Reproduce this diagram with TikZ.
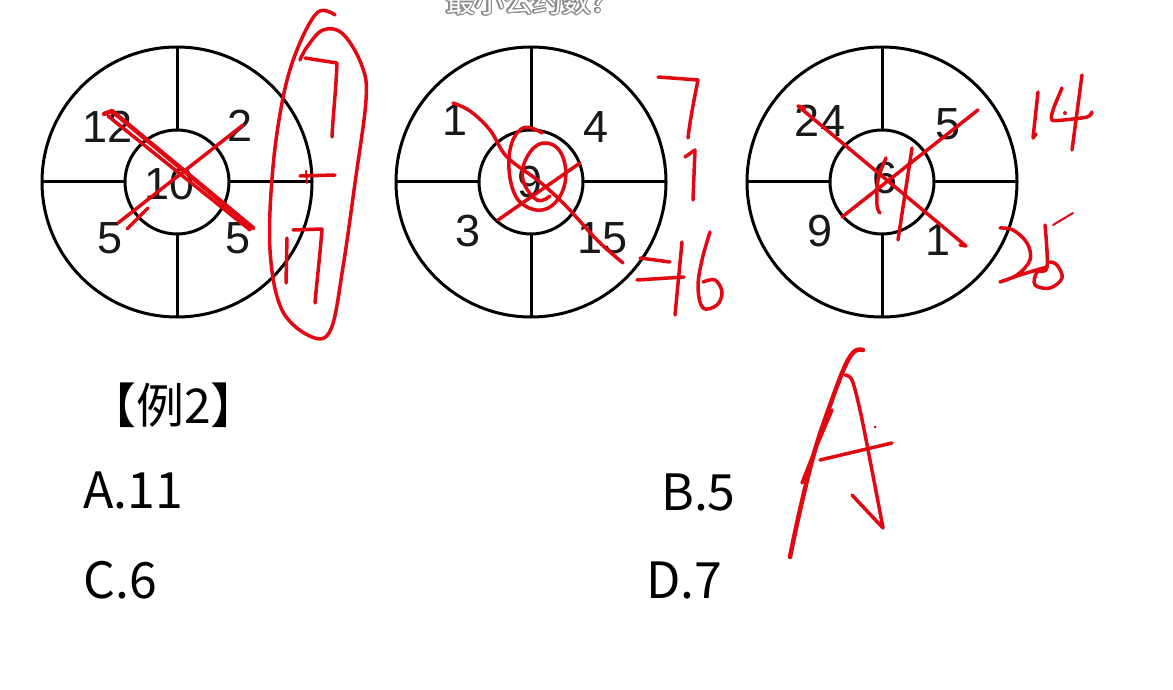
\documentclass[tikz,border=0pt]{standalone}
\usepackage{fontspec}
\usepackage[copies]{contour}
\contourlength{1.2pt}
\contournumber{16}
\setmainfont{Liberation Sans}
\newfontfamily\cjk{Noto Sans CJK SC}
\definecolor{penred}{RGB}{226,8,18}
\begin{document}
\begin{tikzpicture}[x=1pt,y=-1pt,
  ring/.style={line width=3pt,black},
  num/.style={font=\fontsize{45}{45}\selectfont,inner sep=0pt,text=black!90},
  opt/.style={font=\cjk\fontsize{50}{50}\selectfont,inner sep=0pt,anchor=base west},
  hdr/.style={font=\cjk\fontsize{29}{29}\selectfont,inner sep=0pt},
  pen/.style={draw=penred,line width=3.5pt,line cap=round,line join=round},
  penthick/.style={pen,line width=4.5pt}]
\useasboundingbox (0,0) rectangle (1173,690);
\clip (0,0) rectangle (1173,690);
\fill[white] (0,0) rectangle (1173,690);

% header (mostly cut off)
\node[hdr] (title) at (533,2) {\contour{black!45}{\textcolor{white}{最小公约数？}}};

% the three rings
\foreach \n/\cx in {c1/177,c2/531,c3/882} {
  \coordinate (\n) at (\cx,182);
  \draw[ring] (\n) circle[radius=135pt];
  \draw[ring] (\n) circle[radius=52pt];
  \foreach \a in {0,90,180,270}
    \draw[ring] (\n) ++(\a:52) -- ++(\a:83);
}

% numbers ring 1
\node[num] (a12) at (108,127) {12};
\node[num] (a2)  at (240,126) {2};
\node[num] (a10) at (170,184) {10};
\node[num] (a5l) at (110,238) {5};
\node[num] (a5r) at (238,238) {5};
% numbers ring 2
\node[num] (b1)  at (455,120) {1};
\node[num] (b4)  at (596,127) {4};
\node[num] (b9)  at (530,182) {9};
\node[num] (b3)  at (468,231) {3};
\node[num] (b15) at (603,238) {15};
% numbers ring 3
\node[num] (d24) at (820,121) {24};
\node[num] (d5)  at (948,124) {5};
\node[num] (d6)  at (885,178) {6};
\node[num] (d9)  at (820,231) {9};
\node[num] (d1)  at (938,240) {1};

% question text
\node[font=\cjk\fontsize{48}{48}\selectfont,inner sep=0pt,anchor=base west] (ex) at (88,423) {【例2】};
\node[opt] (optA) at (83,508) {A.11};
\node[opt] (optB) at (661,510) {B.5};
\node[opt] (optC) at (83,598) {C.6};
\node[opt] (optD) at (646,598) {D.7};

% ---- red handwriting, ring 1 ----
\draw[penthick] (104,114) -- (112,111) -- (253,228);
\draw[pen] (108,116) -- (250,230);
\draw[pen] (118,223) -- (243,125);
\draw[pen] (127,229) -- (148,208);
\draw[pen] (300,176) -- (335,175);
\draw[pen,line width=2pt] (306,171) -- (307,183);
\draw[pen] (305,58) -- (337,63) .. controls (336,90) and (333,115) .. (332,137);
\draw[pen] (287,238) -- (286,283);
\draw[pen] (293,230) -- (322,229) .. controls (320,255) and (317,280) .. (315,303);
\draw[pen] plot[smooth,tension=0.6] coordinates {(335,15) (318,12) (299,45) (284,93) (273,167) (270,250) (282,310) (312,337) (331,329) (343,267) (355,183) (366,100) (362,66) (343,34) (323,30) (307,47) (300,60)};

% ---- red handwriting, ring 2 ----
\draw[pen] plot[smooth,tension=0.6] coordinates {(453,103) (470,111) (490,130) (507,157) (540,182) (567,207) (597,240) (623,263)};
\draw[pen] (498,220) -- (580,163);
\draw[pen] plot[smooth,tension=0.7] coordinates {(542,133) (523,128) (510,150) (512,187) (527,207) (550,207) (565,183) (561,153) (543,143) (527,157) (523,180) (537,200) (550,196)};
\draw[pen] (658,77) -- (698,80) .. controls (694,100) and (690,120) .. (688,138);
\draw[pen] (685,157) -- (695,150) -- (693,200);
\draw[pen] (640,258) -- (670,262);
\draw[pen] (637,280) -- (684,277);
\draw[pen] (682,242) -- (675,315);
\draw[pen] plot[smooth,tension=0.6] coordinates {(710,232) (702,260) (698,287) (703,308) (717,305) (722,292) (715,280) (703,282)};

% ---- red handwriting, ring 3 ----
\draw[pen] (805,108) -- (798,106) -- (966,246) -- (960,245);
\draw[pen] (842,217) -- (978,110);
\draw[pen] plot[smooth,tension=0.6] coordinates {(886,158) (878,180) (877,205) (880,213)};
\draw[pen] (912,148) -- (898,240);
\draw[pen] (1038,92) -- (1033,138) -- (1036,134);
\draw[pen] plot[smooth,tension=0.5] coordinates {(1062,88) (1053,110) (1052,120) (1063,120) (1087,117) (1092,112)};
\draw[pen] (1082,75) -- (1072,150);
\fill[penred] (1065,113) circle[radius=2pt];
\draw[pen] plot[smooth,tension=0.6] coordinates {(1000,228) (1013,230) (1027,243) (1030,260) (1017,275) (1000,282) (1020,275) (1047,267)};
\draw[pen] plot[smooth,tension=0.6] coordinates {(1045,225) (1047,267) (1037,272) (1035,285) (1050,288) (1062,278) (1057,265) (1050,262)};
\draw[pen,line width=2pt] (1053,225) -- (1073,213);

% ---- big A ----
\draw[pen,line width=4.5pt] plot[smooth,tension=0.6] coordinates {(863,350) (855,351) (846,364) (833,397) (815,450) (800,510) (790,557)};
\draw[pen] (832,410) -- (817,445) -- (802,483);
\draw[pen] plot[smooth,tension=0.5] coordinates {(845,375) (852,380) (860,410) (870,460) (883,528)};
\draw[pen] (883,528) -- (852,495);
\draw[pen] (820,460) -- (892,443);
\fill[penred] (875,427) circle[radius=1.5pt];
\end{tikzpicture}
\end{document}
